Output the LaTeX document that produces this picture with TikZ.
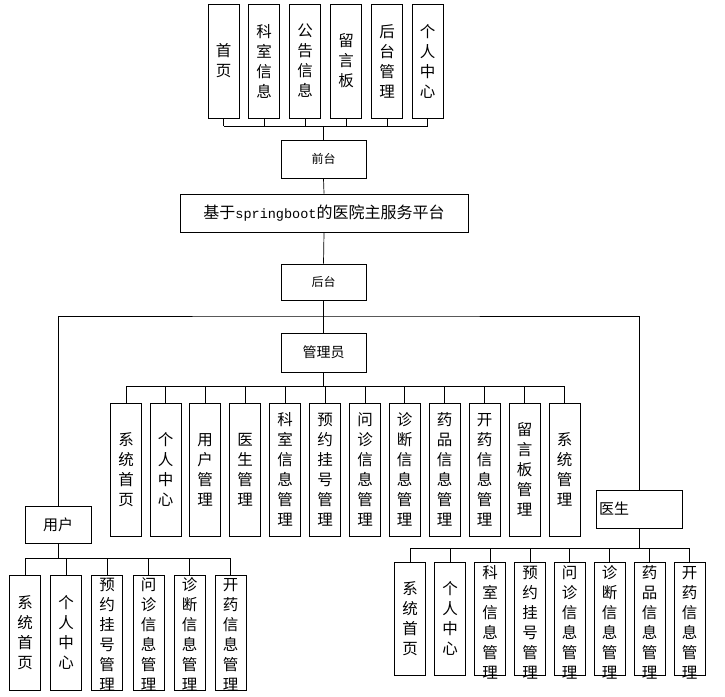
\documentclass[tikz,border=0pt]{standalone}
\usepackage{fontspec}
\newfontfamily\cjk{Noto Sans CJK SC}
\newfontfamily\mono{Liberation Mono}
\begin{document}
\begin{tikzpicture}[x=1pt,y=-1pt,
  box/.style={draw,line width=0.8pt,inner sep=0pt,align=center},
  vbox/.style={box,minimum width=31pt},
  vtext/.style={inner sep=0pt,align=center,font=\cjk\fontsize{15.5}{20}\selectfont},
  link/.style={line width=0.7pt}]
\useasboundingbox (0,0) rectangle (725,696);
% front-end modules
\foreach \n/\x/\t in {1/223.5/{首\\页},2/264/{科\\室\\信\\息},3/305/{公\\告\\信\\息},4/346/{留\\言\\板},5/387/{后\\台\\管\\理},6/427.5/{个\\人\\中\\心}}
  \node[vbox,minimum height=114pt,label={[vtext]center:\t}] (f\n) at (\x,61) {};
\node[box,minimum width=85pt,minimum height=38pt,font=\cjk\fontsize{12}{14}\selectfont] (front) at (323.5,159) {前台};
\node[box,minimum width=288pt,minimum height=38pt,font=\cjk\fontsize{16}{18}\selectfont] (plat) at (324,213) {基于{\mono\fontsize{13.5}{16}\selectfont springboot}的医院主服务平台};
\node[box,minimum width=85pt,minimum height=36pt,font=\cjk\fontsize{12}{14}\selectfont] (back) at (323.5,282) {后台};
\node[box,minimum width=85pt,minimum height=39pt,font=\cjk\fontsize{14}{16}\selectfont] (admin) at (323.5,352.5) {管理员};
\node[box,minimum width=66pt,minimum height=37pt,font=\cjk\fontsize{15}{17}\selectfont] (user) at (58,524.5) {用户};
\node[box,minimum width=86pt,minimum height=38pt,font=\cjk\fontsize{15}{17}\selectfont,text width=80pt,align=left] (doc) at (639,509) {医生};
\coordinate (fb) at (323.5,126);
\coordinate (bb) at (323.5,316);
\coordinate (ab) at (323.5,386);
\coordinate (ub) at (58,558);
\coordinate (db) at (639,548);
% front bus
\foreach \n in {1,...,6} \draw[link] (f\n.south) -- (f\n.south |- fb);
\draw[link] (f1.south |- fb) -- (f6.south |- fb);
\draw[link] (fb) -- (front.north);
\draw[link] (front.south) -- (plat.north);
\draw[link] (plat.south) -- (back.north);
\draw[link] (back.south) -- (admin.north);
\draw[link] (user.north) |- (bb) -| (doc.north);
% admin modules
\foreach \n/\x/\t in {1/126/{系\\统\\首\\页},2/165.5/{个\\人\\中\\心},3/205/{用\\户\\管\\理},4/245/{医\\生\\管\\理},5/285/{科\\室\\信\\息\\管\\理},6/325/{预\\约\\挂\\号\\管\\理},7/365/{问\\诊\\信\\息\\管\\理},8/404.5/{诊\\断\\信\\息\\管\\理},9/444.5/{药\\品\\信\\息\\管\\理},10/484.5/{开\\药\\信\\息\\管\\理},11/524.5/{留\\言\\板\\管\\理},12/564.5/{系\\统\\管\\理}}
  {\node[vbox,minimum height=133pt,label={[vtext]center:\t}] (a\n) at (\x,469.5) {};
   \draw[link] (a\n.north) -- (a\n.north |- ab);}
\draw[link] (a1.north |- ab) -- (a12.north |- ab);
\draw[link] (admin.south) -- (ab);
% user modules
\foreach \n/\x/\s/\t in {1/25/0/{系\\统\\首\\页},2/66/0/{个\\人\\中\\心},3/107/-2/{预\\约\\挂\\号\\管\\理},4/148.5/-2/{问\\诊\\信\\息\\管\\理},5/189.5/-2/{诊\\断\\信\\息\\管\\理},6/230.5/-2/{开\\药\\信\\息\\管\\理}}
  {\node[vbox,minimum height=115pt,label={[vtext,yshift=\s pt]center:\t}] (u\n) at (\x,632.5) {};
   \draw[link] (u\n.north) -- (u\n.north |- ub);}
\draw[link] (u1.north |- ub) -- (u6.north |- ub);
\draw[link] (user.south) -- (ub);
% doctor modules
\foreach \n/\x/\s/\t in {1/410/0/{系\\统\\首\\页},2/450/0/{个\\人\\中\\心},3/490/-4/{科\\室\\信\\息\\管\\理},4/530/-4/{预\\约\\挂\\号\\管\\理},5/569.5/-4/{问\\诊\\信\\息\\管\\理},6/609.5/-4/{诊\\断\\信\\息\\管\\理},7/649.5/-4/{药\\品\\信\\息\\管\\理},8/689.5/-4/{开\\药\\信\\息\\管\\理}}
  {\node[vbox,minimum height=113pt,label={[vtext,yshift=\s pt]center:\t}] (d\n) at (\x,618.5) {};
   \draw[link] (d\n.north) -- (d\n.north |- db);}
\draw[link] (d1.north |- db) -- (d8.north |- db);
\draw[link] (doc.south) -- (db);
\end{tikzpicture}
\end{document}
